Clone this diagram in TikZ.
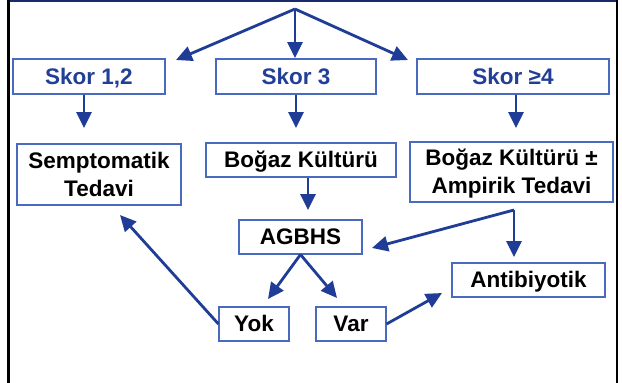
\documentclass[tikz,border=0pt]{standalone}
\usepackage{fontspec}
\setmainfont{Liberation Sans}
\usetikzlibrary{arrows.meta}
\definecolor{navy}{HTML}{1F3C96}
\definecolor{boxblue}{HTML}{4A6AC0}
\definecolor{skorblue}{HTML}{223F98}
\definecolor{topline}{HTML}{1A2A6C}
\tikzset{
  box/.style={draw=boxblue, line width=1.1pt, rectangle, inner sep=0pt,
    font=\fontsize{22.5}{28}\selectfont\bfseries, align=center,
    text height=15.8pt, text depth=0pt},
  twoline/.style={text height=43.8pt, text depth=0pt},
  skor/.style={text=skorblue},
  arr/.style={draw=navy, line width=2.8pt, -{Triangle[length=16pt,width=15pt]}},
  plain/.style={draw=navy, line width=2.8pt}
}
\begin{document}
\begin{tikzpicture}[x=1pt,y=-1pt]
\useasboundingbox (0,0) rectangle (622,383);
\fill[white] (0,0) rectangle (622,383);
% frame
\draw[topline, line width=2.5pt] (8,1.2) -- (617,1.2);
\draw[black, line width=2.6pt] (8.5,0) -- (8.5,383);
\draw[black, line width=2.6pt] (617,0) -- (617,383);

% nodes
\node[box, skor, minimum width=152pt, minimum height=35pt] (s12) at (89,76.5) {Skor 1,2};
\node[box, skor, minimum width=160pt, minimum height=35pt] (s3) at (296,76.5) {Skor 3};
\node[box, skor, minimum width=192pt, minimum height=35pt] (s4) at (513,76.5) {Skor ≥4};
\node[box, twoline, minimum width=164pt, minimum height=61pt] (semp) at (99,174.5) {Semptomatik\\Tedavi};
\node[box, minimum width=190pt, minimum height=34pt] (bk) at (301,160) {Boğaz Kültürü};
\node[box, twoline, minimum width=203pt, minimum height=60pt] (bka) at (511.5,172) {Boğaz Kültürü ±\\Ampirik Tedavi};
\node[box, minimum width=123pt, minimum height=34pt] (agbhs) at (300.5,237) {AGBHS};
\node[box, minimum width=153pt, minimum height=34pt] (anti) at (528.5,280) {Antibiyotik};
\node[box, minimum width=70pt, minimum height=34pt] (yok) at (254,324) {Yok};
\node[box, minimum width=70pt, minimum height=34pt] (var) at (351,324) {Var};

% coordinates
\coordinate (o) at (295,9);
\coordinate (t1) at (176,60);
\coordinate (t2) at (295,58);
\coordinate (t3) at (408,60);
\coordinate (d1) at (84,128);
\coordinate (d2) at (296,128);
\coordinate (d3) at (516,128);
\coordinate (d4) at (308,210);
\coordinate (f) at (514,210);
\coordinate (ta) at (372,248);
\coordinate (tb) at (514,257);
\coordinate (ty) at (268,299);
\coordinate (tv) at (337,298);
\coordinate (ts) at (120,215);
\coordinate (tn) at (442,293);

% connectors
\draw[arr] (o) -- (t1);
\draw[arr] (o) -- (t2);
\draw[arr] (o) -- (t3);
\draw[arr] (d1 |- s12.south) -- (d1);
\draw[arr] (d2 |- s3.south) -- (d2);
\draw[arr] (d3 |- s4.south) -- (d3);
\draw[arr] (d4 |- bk.south) -- (d4);
\draw[arr] (f) -- (ta);
\draw[arr] (f) -- (tb);
\draw[arr] (agbhs.south) -- (ty);
\draw[arr] (agbhs.south) -- (tv);
\draw[arr] (yok.west) -- (ts);
\draw[arr] (var.east) -- (tn);
\end{tikzpicture}
\end{document}
